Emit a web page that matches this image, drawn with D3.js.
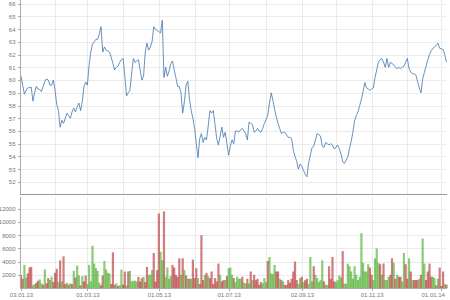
<!DOCTYPE html>
<html>
<head>
<meta charset="utf-8">
<script src="https://cdn.jsdelivr.net/npm/d3@7"></script>
<style>
  body { margin: 0; background: #fff; }
  svg { display: block; font-family: "DejaVu Sans", sans-serif; }
  .axis text { fill: #777; font-size: 6px; }
  .axis path, .axis line { stroke: #aaa; shape-rendering: crispEdges; }
</style>
</head>
<body>
<div class="chart"></div>
<script>
// closing price per trading day
var price = [
  60.3,59.6,58.9,59.2,59.4,59.4,59.45,58.35,59.0,59.5,
  59.3,59.25,59.1,59.5,59.9,60.1,60.0,59.6,59.6,60.0,
  59.2,58.1,57.6,56.3,56.85,56.6,57.0,57.4,57.2,57.0,
  57.5,57.8,57.5,57.9,58.2,57.6,58.3,59.5,59.85,59.6,
  61.2,62.2,62.8,63.0,63.2,63.2,63.6,64.2,62.2,62.6,
  62.35,62.3,62.2,61.8,61.3,60.8,61.0,61.1,61.4,61.6,
  61.7,60.3,58.75,59.0,59.2,60.5,61.7,61.4,61.5,61.6,
  60.8,60.0,60.3,62.2,62.9,62.35,62.6,63.0,64.2,64.0,
  63.9,63.8,63.7,64.7,60.2,61.0,60.3,60.7,61.3,61.5,
  60.8,60.2,59.5,59.5,59.0,57.4,58.3,59.6,59.9,58.5,
  57.6,57.0,56.2,55.0,53.9,55.4,55.8,55.1,55.5,55.3,
  56.4,57.6,57.4,57.6,56.5,55.4,54.9,55.6,56.3,55.5,
  55.9,55.0,54.1,54.8,55.3,55.0,56.0,56.0,55.9,56.1,
  56.2,56.0,55.8,55.3,56.7,56.6,56.5,55.9,56.0,56.2,
  56.0,55.9,56.2,56.6,56.9,57.25,58.2,59.0,58.4,57.7,
  57.1,56.6,56.2,55.8,55.9,55.9,55.7,55.5,55.5,55.4,
  54.5,54.0,53.6,53.0,53.4,53.2,52.9,52.6,52.4,53.5,
  54.1,54.7,54.8,55.3,55.8,55.7,55.6,54.8,54.7,55.1,
  55.0,54.9,55.0,54.9,54.6,54.7,54.9,54.6,54.2,53.6,
  53.45,53.7,53.95,54.6,55.2,55.9,56.8,57.2,57.5,58.0,
  58.5,59.1,59.8,59.4,59.3,59.2,59.3,59.4,60.2,60.8,
  61.4,61.6,61.7,61.4,61.0,61.7,61.0,61.4,61.3,61.2,
  61.0,60.9,61.0,60.9,61.0,61.1,61.4,61.7,60.9,60.6,
  60.5,60.5,60.4,59.9,59.4,59.0,60.1,60.6,61.1,61.6,
  62.0,62.3,62.5,62.6,62.75,62.9,62.5,62.45,62.4,62.0,
  61.4
];

// traded volume per trading day
var volume = [
  2000,1400,3500,1600,2200,3100,3200,400,600,800,
  1100,1300,700,500,2800,700,1500,1200,1700,900,
  2300,2900,900,4200,1000,4800,600,800,500,700,
  600,2600,1600,3400,1900,400,1800,1000,1900,600,
  3500,1000,6400,3700,3000,2600,800,400,1900,4100,
  2800,2300,2200,600,5400,500,700,300,400,2800,
  500,2500,400,2500,2600,1000,1100,1100,1000,1700,
  1000,1500,1700,900,3200,2000,2000,2700,5300,1000,
  2700,11300,5500,4200,11600,1700,3100,1400,1800,3500,
  3100,2000,1700,4500,2000,4500,2700,1900,1400,1400,
  1400,4300,1500,3000,1500,600,8000,1200,2000,2300,
  1800,1500,2500,600,1500,1000,3700,2000,1000,1200,
  1200,1800,3000,3100,2000,1500,900,1700,1400,1400,
  1700,800,700,1400,700,2500,1200,2000,1200,1400,
  500,900,700,1500,900,4100,4700,2200,2100,3500,
  2500,2500,1400,1200,1000,450,450,1200,800,1400,
  2500,4000,1200,600,1500,1700,900,1200,1400,600,
  4700,1000,3300,2000,1500,900,1200,4200,1000,500,
  450,3300,1400,4700,1000,900,1200,1900,1600,5600,
  700,600,3700,3300,2500,1400,3300,2000,1200,1700,
  8300,3800,2500,2500,3600,3100,2000,1200,4500,6000,
  3800,3600,2000,3700,1200,1200,1700,2000,4500,3800,
  1400,2000,1700,1700,1000,5300,3600,1400,4500,2500,
  1200,1200,1200,1200,1400,2000,7500,3700,1200,2500,
  3700,1700,1700,1500,400,1400,3100,300,2500,600,
  500
];

// bar colour per day: g = up, r = down
var barDir = (
  "rrggrrrggr" + "rggrgrrggr" + "rrgrgrrgrg" + "rgrggrgrrg" + "gggggggrrg" +
  "gggrrrgrgg" + "rrgrgggggr" + "rrgrrgggrr" + "rrggrggggr" + "rrrrgrgrgr" +
  "grrrgrrrgr" + "grrrrrrgrr" + "grgggrgggg" + "rggrgrgrrr" + "rrgggrgggg" +
  "rrgrgrrrrr" + "rrrggrgrrg" + "ggrgggggrg" + "grrrrggggr" + "gggggggggg" +
  "gggggrrggg" + "grgrgggrrg" + "rgrrggrrgr" + "grrrgrggrr" + "rrggrgrrrg" +
  "r"
).split("");

// month starts (trading day index) and date labels
var monthIdx = [0, 20, 39, 60, 81, 102, 122, 144, 165, 185, 206, 227, 247];
var labelIdx = [0, 39, 81, 122, 165, 206, 247];
var labelText = ["03.01.13", "01.03.13", "01.05.13", "01.07.13", "02.09.13", "01.11.13", "01.01.14"];
var priceTicks = d3.range(52, 67);
var volTicks = [2000, 4000, 6000, 8000, 10000, 12000];

var w = 450, h = 300;
var svg = d3.select("div.chart").append("svg")
    .attr("width", w).attr("height", h);

var x = d3.scaleLinear().domain([0, price.length - 1]).range([21, 446.5]);
var yP = d3.scaleLinear().domain([52, 66]).range([181.9, 3.7]);
var yV = d3.scaleLinear().domain([0, 12000]).range([288, 208.8]);

var grid = svg.append("g").attr("stroke", "#ebebeb").attr("shape-rendering", "crispEdges");

// top panel grid
grid.selectAll(".hp").data(priceTicks).enter().append("line")
    .attr("x1", 20).attr("x2", 446)
    .attr("y1", function(d){ return Math.round(yP(d)) + 0.5; })
    .attr("y2", function(d){ return Math.round(yP(d)) + 0.5; });
grid.selectAll(".vp").data(monthIdx.slice(1)).enter().append("line")
    .attr("x1", function(d){ return Math.round(x(d)) + 0.5; })
    .attr("x2", function(d){ return Math.round(x(d)) + 0.5; })
    .attr("y1", 0).attr("y2", 194);

// bottom panel grid
grid.selectAll(".hv").data(volTicks).enter().append("line")
    .attr("x1", 20).attr("x2", 446)
    .attr("y1", function(d){ return Math.round(yV(d)) + 0.5; })
    .attr("y2", function(d){ return Math.round(yV(d)) + 0.5; });
grid.selectAll(".vv").data(monthIdx.slice(1)).enter().append("line")
    .attr("x1", function(d){ return Math.round(x(d)) + 0.5; })
    .attr("x2", function(d){ return Math.round(x(d)) + 0.5; })
    .attr("y1", 197).attr("y2", 288);

// volume bars
svg.append("g").selectAll("rect").data(volume).enter().append("rect")
    .attr("x", function(d, i){ return x(i) - 1.1; })
    .attr("width", 2.2)
    .attr("y", function(d){ return yV(d); })
    .attr("height", function(d){ return 288 - yV(d); })
    .attr("fill", function(d, i){ return barDir[i] === "g" ? "#3fa81c" : "#b3262a"; })
    .attr("fill-opacity", 0.6);

// price line
var line = d3.line()
    .x(function(d, i){ return x(i); })
    .y(function(d){ return yP(d); });

svg.append("path")
    .datum(price)
    .attr("d", line)
    .attr("fill", "none")
    .attr("stroke", "#4176ad")
    .attr("stroke-width", 0.8);

// axes
svg.append("g").attr("class", "axis")
    .attr("transform", "translate(20.5,0)")
    .call(d3.axisLeft(yP).tickValues(priceTicks).tickSize(3).tickPadding(2).tickSizeOuter(0))
    .select(".domain").attr("d", "M0,0V194");

svg.append("g").attr("class", "axis")
    .attr("transform", "translate(20.5,0)")
    .call(d3.axisLeft(yV).tickValues(volTicks).tickSize(3).tickPadding(2).tickSizeOuter(0)
        .tickFormat(d3.format("d")))
    .select(".domain").attr("d", "M0,197V288");

// panel separator
svg.append("line")
    .attr("x1", 20).attr("x2", 447).attr("y1", 194.5).attr("y2", 194.5)
    .attr("stroke", "#999");

// date axis
var xa = svg.append("g").attr("class", "axis")
    .attr("transform", "translate(0,288.5)")
    .call(d3.axisBottom(x).tickValues(labelIdx).tickSize(2).tickPadding(2)
        .tickFormat(function(d, i){ return labelText[i]; }));
xa.select(".domain").attr("d", "M20,0H447");
xa.selectAll(".tick text").filter(function(d, i){ return i === labelIdx.length - 1; })
    .attr("text-anchor", "end").attr("dx", "3");
</script>
</body>
</html>
